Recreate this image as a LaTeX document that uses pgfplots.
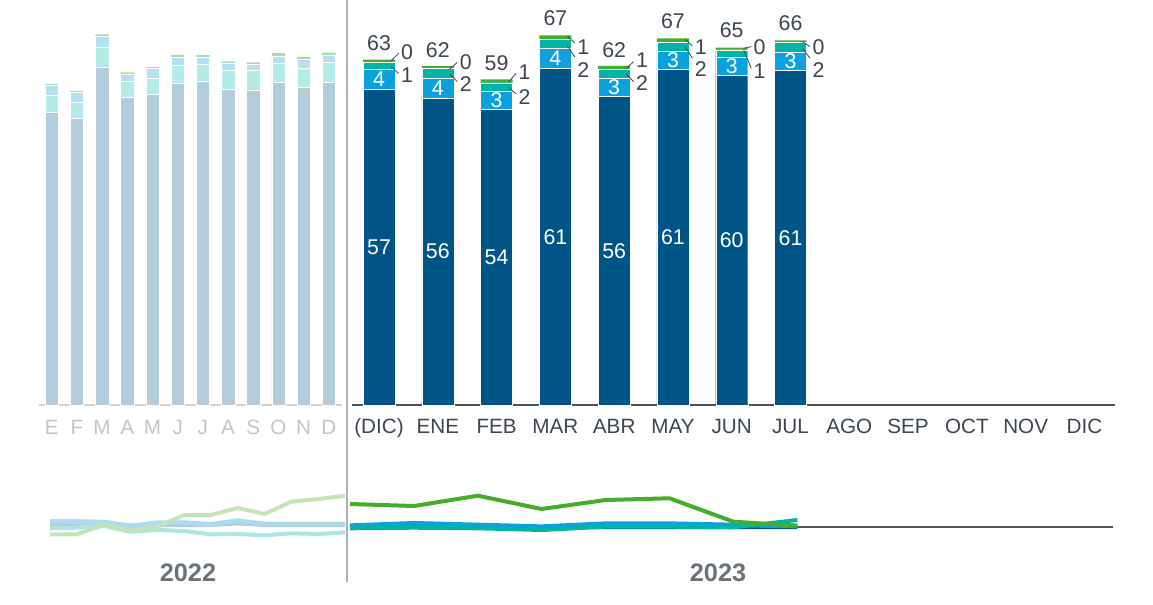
\documentclass[border=0pt]{standalone}
\usepackage{fontspec}
\setmainfont{Liberation Sans}
\usepackage{pgfplots}
\pgfplotsset{compat=1.18}
\usepackage{pgfplotstable}

\definecolor{dk}{HTML}{005587}
\definecolor{bl}{HTML}{0CA0DC}
\definecolor{tl}{HTML}{00B5A5}
\definecolor{gr}{HTML}{45AD2C}
\definecolor{fdk}{HTML}{B3CBDB}
\definecolor{faq}{HTML}{B3EBE6}
\definecolor{flb}{HTML}{B3E0F3}
\definecolor{fgr}{HTML}{AAD8AE}
\definecolor{txt}{HTML}{3C4650}
\definecolor{axl}{HTML}{4A5560}
\definecolor{sep}{HTML}{B0B0C0}
\definecolor{yr}{HTML}{6B737A}
\definecolor{lgr}{HTML}{C4E4B8}
\definecolor{llb}{HTML}{A9DCF0}
\definecolor{laq}{HTML}{ABE6E0}
\definecolor{lgy}{HTML}{BCC8D6}
\definecolor{lmo}{HTML}{C4C4C4}

\newcommand\fs[1]{\fontsize{#1}{#1}\selectfont}

% 2022 stacked bars
\pgfplotstableread{
i  dk   aq   lb   gr
0  53.3 3.0  1.8  0.24
1  52.1 3.0  1.8  0.2
2  61.5 3.6  1.9  0.4
3  55.9 3.0  1.3  0.3
4  56.5 3.0  1.7  0.25
5  58.6 3.2  1.5  0.35
6  58.8 3.2  1.3  0.3
7  57.4 3.5  1.3  0.3
8  57.3 3.5  1.2  0.3
9  58.7 3.4  1.4  0.5
10 57.8 3.5  1.6  0.4
11 58.7 3.6  1.35 0.4
}\Ldata

% 2023 stacked bars
\pgfplotstableread{
i  dk   bl   tl   gr
0  57.4 3.6  1.4  0.4
1  55.8 3.6  1.8  0.4
2  53.8 3.2  1.6  0.6
3  61.2 3.6  1.7  0.7
4  56.1 3.3  1.7  0.55
5  61.0 3.4  1.6  0.65
6  59.9 3.4  1.3  0.4
7  60.8 3.4  1.7  0.4
}\Rdata

% 2022 lines
\pgfplotstableread{
i  gy   lb    aq     gr
0  0.4  1.14  -0.26  -1.46
1  0.4  1.1   -0.14  -1.46
2  0.5  1.0    0.2    0.4
3  0.3  0.2   -0.94  -0.6
4  0.4  0.86  -0.6    0.0
5  0.4  0.86  -0.8    2.4
6  0.4  0.54  -1.46   2.4
7  0.7  1.26  -1.4    3.8
8  0.4  0.6   -1.66   2.6
9  0.4  0.6   -1.26   5.06
10 0.4  0.6   -1.4    5.6
11 0.4  0.6   -1.06   6.26
}\Lline

% 2023 lines
\pgfplotstableread{
i  dk    bl    tl     gr
0  0.0   0.26  -0.26  4.6
1  0.1   0.74  -0.14  4.2
2  0.0   0.4   -0.26  6.26
3  -0.1  0.06  -0.6   3.6
4  0.0   0.66   0.06  5.4
5  0.0   0.66   0.06  5.74
6  0.0   0.4   -0.06  1.06
7  0.0   0.2    1.4   0.26
}\Rline

\newcommand\lead[5]{%
  \draw[txt, line width=0.6pt] (axis cs:#1+0.204,#2) -- (axis cs:#1+0.332,#3);
  \node[text=txt, font=\fs{16}, inner sep=0pt] at (axis cs:#1+0.475,#4) {#5};}
\newcommand\inlab[3]{\node[text=white, font=\fs{16}, inner sep=0pt] at (axis cs:#1,#2) {#3};}
\newcommand\tot[3]{\node[text=txt, font=\fs{16}, inner sep=0pt] at (axis cs:#1,#2) {#3};}

\pgfplotsset{rightbox/.style={at={(264pt,149.25pt)}, anchor=south west, scale only axis,
  width=572.25pt, height=288.75pt, xmin=-0.46, xmax=12.52, ymin=0, ymax=70, clip=false}}

\begin{document}
\begin{tikzpicture}[x=1pt,y=1pt]
\useasboundingbox (0,0) rectangle (864.75,453);

% ---------- 2022 bars ----------
\begin{axis}[at={(29.25pt,149.25pt)}, anchor=south west, scale only axis,
  width=227.25pt, height=288.75pt,
  xmin=-0.504, xmax=11.52, ymin=0, ymax=70,
  axis y line=none, axis x line=bottom,
  axis line style={-, draw=lmo!80, line width=1.5pt},
  ybar stacked, bar width=10pt,
  xtick={0,...,11}, xticklabels={E,F,M,A,M,J,J,A,S,O,N,D},
  major tick length=0pt,
  xticklabel style={font=\fs{15.5}, text=lmo, anchor=base, yshift=-21.8pt},
  clip=false]
\addplot[fill=fdk, draw=white, line width=0.3pt] table[x=i,y=dk]{\Ldata};
\addplot[fill=faq, draw=white, line width=0.3pt] table[x=i,y=aq]{\Ldata};
\addplot[fill=flb, draw=white, line width=0.3pt] table[x=i,y=lb]{\Ldata};
\addplot[fill=fgr, draw=none] table[x=i,y=gr]{\Ldata};
\end{axis}

% ---------- 2023 bars ----------
\begin{axis}[rightbox,
  axis y line=none, axis x line=bottom,
  axis line style={-, draw=axl, line width=1.5pt},
  ybar stacked, bar width=24pt,
  xtick={0,...,12},
  xticklabels={(DIC),ENE,FEB,MAR,ABR,MAY,JUN,JUL,AGO,SEP,OCT,NOV,DIC},
  major tick length=0pt,
  xticklabel style={font=\fs{15.5}, text=txt, anchor=base, yshift=-21.5pt}]
\addplot[fill=dk, draw=white, line width=0.3pt] table[x=i,y=dk]{\Rdata};
\addplot[fill=bl, draw=white, line width=0.3pt] table[x=i,y=bl]{\Rdata};
\addplot[fill=tl, draw=white, line width=0.3pt] table[x=i,y=tl]{\Rdata};
\addplot[fill=gr, draw=none] table[x=i,y=gr]{\Rdata};
\end{axis}

% ---------- 2023 labels (same frame) ----------
\begin{axis}[rightbox, hide axis]
% inside labels
\inlab{0}{28.7}{57}\inlab{1}{27.9}{56}\inlab{2}{26.9}{54}\inlab{3}{30.6}{61}
\inlab{4}{28.05}{56}\inlab{5}{30.5}{61}\inlab{6}{29.95}{60}\inlab{7}{30.4}{61}
\inlab{0}{59.2}{4}\inlab{1}{57.6}{4}\inlab{2}{55.4}{3}\inlab{3}{63.0}{4}
\inlab{4}{57.75}{3}\inlab{5}{62.7}{3}\inlab{6}{61.6}{3}\inlab{7}{62.5}{3}
% totals
\tot{0}{65.76}{63}\tot{1}{64.5}{62}\tot{2}{62.1}{59}\tot{3}{70.3}{67}
\tot{4}{64.5}{62}\tot{5}{69.7}{67}\tot{6}{68.2}{65}\tot{7}{69.4}{66}
% leader labels
\lead{0}{62.55}{63.95}{64.13}{0}\lead{0}{61.51}{60.31}{60.0}{1}
\lead{1}{61.09}{62.31}{62.42}{0}\lead{1}{60.18}{58.78}{58.31}{2}
\lead{2}{58.73}{60.31}{60.6}{1}\lead{2}{57.76}{56.55}{56.05}{2}
\lead{3}{67.09}{65.82}{65.15}{1}\lead{3}{65.27}{63.27}{60.91}{2}
\lead{4}{61.22}{62.42}{62.73}{1}\lead{4}{60.18}{58.78}{58.49}{2}
\lead{5}{66.49}{65.27}{65.15}{1}\lead{5}{65.15}{63.04}{61.04}{2}
\lead{6}{64.85}{65.15}{65.15}{0}\lead{6}{64.55}{61.22}{60.78}{1}
\lead{7}{66.05}{65.15}{65.15}{0}\lead{7}{64.85}{63.04}{60.91}{2}
\end{axis}

% ---------- 2022 lines ----------
\begin{axis}[at={(37.5pt,46.5pt)}, anchor=south west, scale only axis,
  width=221.25pt, height=37.5pt, xmin=0, xmax=11, ymin=-3, ymax=7,
  hide axis, clip=false]
\addplot[lgy, line width=3pt, no marks] table[x=i,y=gy]{\Lline};
\addplot[llb, line width=3.5pt, no marks] table[x=i,y=lb]{\Lline};
\addplot[laq, line width=3pt, no marks] table[x=i,y=aq]{\Lline};
\addplot[lgr, line width=3pt, no marks] table[x=i,y=gr]{\Lline};
\end{axis}

% ---------- 2023 lines ----------
\begin{axis}[at={(262.5pt,46.5pt)}, anchor=south west, scale only axis,
  width=572.25pt, height=37.5pt, xmin=0, xmax=11.94, ymin=-3, ymax=7,
  hide axis, clip=false]
\addplot[axl, line width=1.2pt, no marks] coordinates {(0,0) (11.94,0)};
\addplot[dk, line width=3pt, no marks] table[x=i,y=dk]{\Rline};
\addplot[bl, line width=3.5pt, no marks] table[x=i,y=bl]{\Rline};
\addplot[tl, line width=3pt, no marks] table[x=i,y=tl]{\Rline};
\addplot[gr, line width=3pt, no marks] table[x=i,y=gr]{\Rline};
\end{axis}

% separator and year labels
\draw[sep, line width=1.5pt] (260.25,453) -- (260.25,16.5);
\node[text=yr, font=\fs{19}\bfseries, inner sep=0pt] at (141,23.25) {2022};
\node[text=yr, font=\fs{19}\bfseries, inner sep=0pt] at (538.5,23.25) {2023};
\end{tikzpicture}
\end{document}
